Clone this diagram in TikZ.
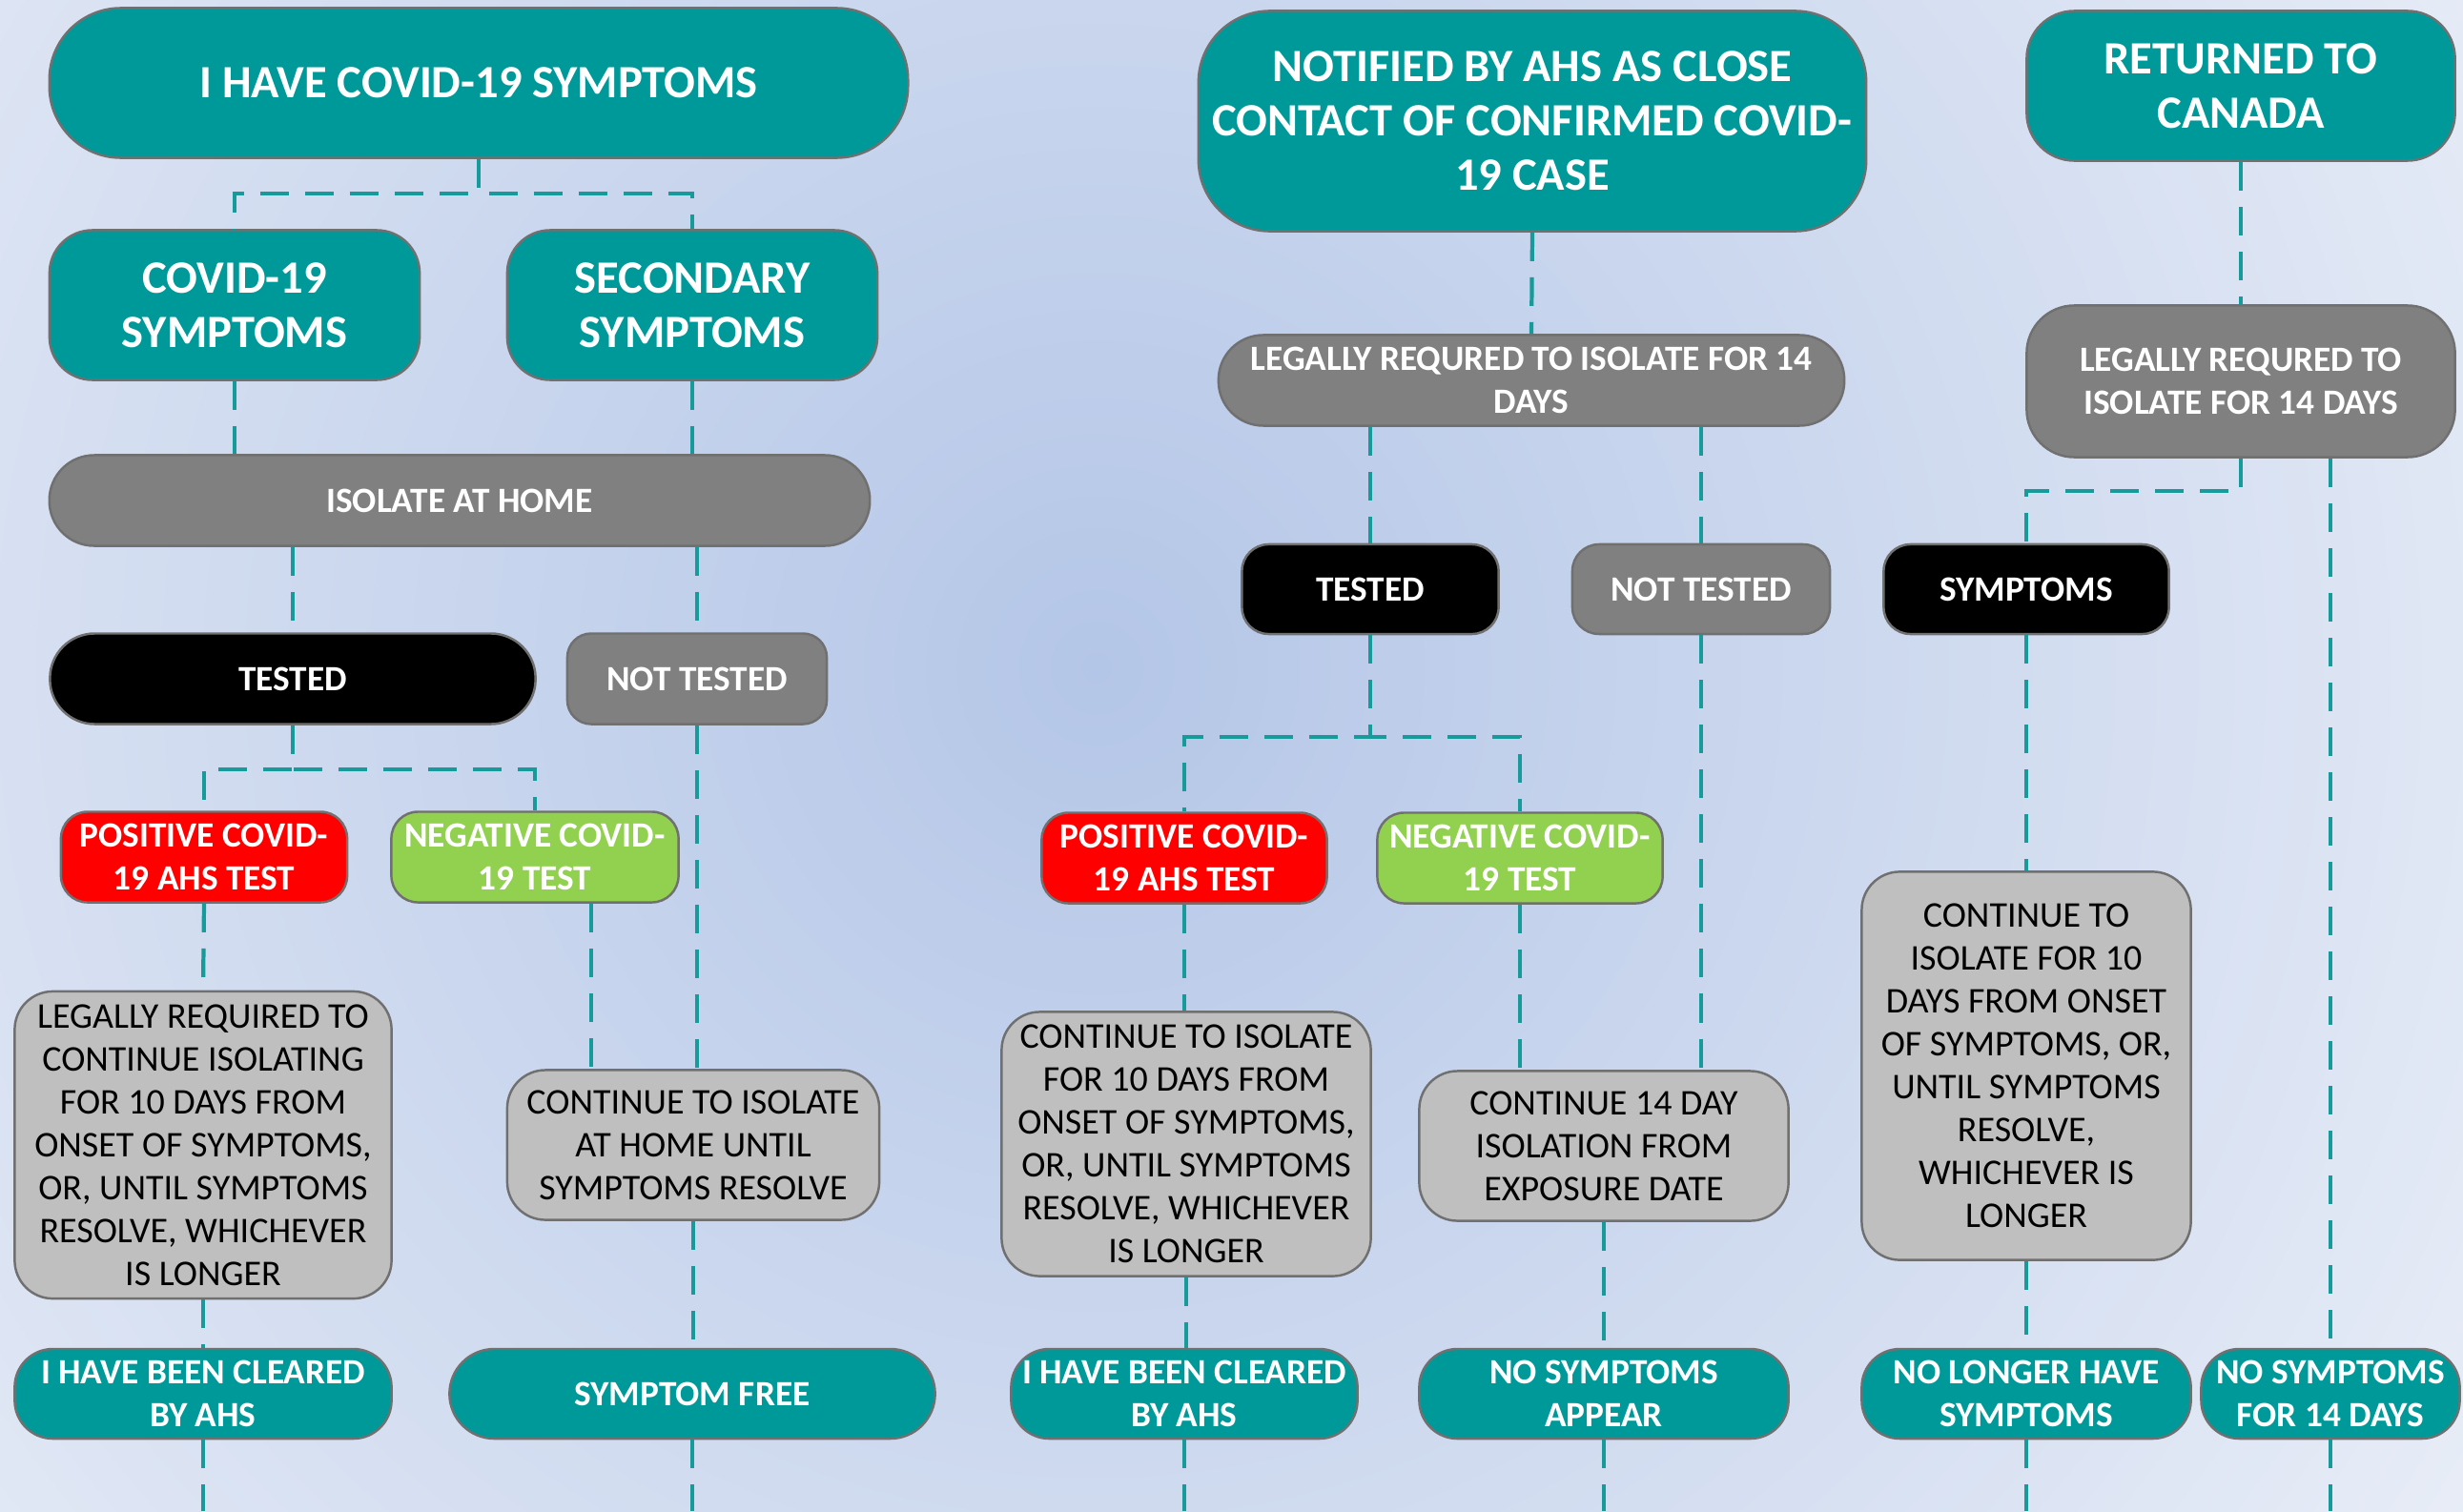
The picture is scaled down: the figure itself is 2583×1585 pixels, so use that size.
\documentclass[tikz,border=0pt]{standalone}
\usepackage{fontspec}
\setmainfont{Carlito}
\usepackage{tikz}
\usetikzlibrary{calc}

\definecolor{tealbox}{RGB}{0,153,153}
\definecolor{linkteal}{RGB}{22,154,154}
\definecolor{darkbox}{RGB}{128,128,128}
\definecolor{lightbox}{RGB}{191,191,191}
\definecolor{posred}{RGB}{255,0,0}
\definecolor{neggreen}{RGB}{146,208,80}
\definecolor{edgegray}{RGB}{112,112,112}
\definecolor{bgdark}{RGB}{180,198,231}
\definecolor{bglight}{RGB}{232,237,247}

\newcommand{\hdfont}{\fontsize{13.8}{16.2}\selectfont\bfseries}
\newcommand{\smfont}{\fontsize{10.6}{12.8}\selectfont}
\newcommand{\ntfont}{\fontsize{10.8}{12.8}\selectfont}

\begin{document}
\begin{tikzpicture}[x=0.01cm, y=-0.01cm,
      box/.style={draw=edgegray, line width=0.7pt, align=center, inner sep=0pt},
      dims/.style n args={3}{minimum width=#1cm, minimum height=#2cm, rounded corners=#3cm},
      head/.style={box, fill=tealbox, text=white, font=\hdfont},
      teal/.style={box, fill=tealbox, text=white, font=\smfont\bfseries},
      grey/.style={box, fill=darkbox, text=white, font=\smfont\bfseries},
      dark/.style={box, fill=black, text=white, font=\smfont\bfseries},
      posbox/.style={box, fill=posred, text=white, font=\smfont\bfseries},
      negbox/.style={box, fill=neggreen, text=white, font=\smfont\bfseries},
      note/.style={box, fill=lightbox, text=black, font=\ntfont},
      link/.style={draw=linkteal, line width=1.2pt, dash pattern=on 0.3cm off 0.17cm}]
    \useasboundingbox (0,0) rectangle (2583,1585);
    % background
    \fill[bglight] (0,0) rectangle (2583,1585);
    \begin{scope}
      \clip (0,0) rectangle (2583,1585);
      \shade[inner color=bgdark, outer color=bglight] (1150,700) circle (1700);
    \end{scope}
    \coordinate (bot) at (0,1585);

    % I have symptoms
    \node[head, dims={9.00}{1.57}{0.75}] (sympt) at (502,87) {I HAVE COVID-19 SYMPTOMS};
    \node[head, dims={3.88}{1.57}{0.45}] (covid) at (246,320) {COVID-19\\SYMPTOMS};
    \node[head, dims={3.88}{1.57}{0.45}] (second) at (726,320) {SECONDARY\\SYMPTOMS};
    \node[grey, dims={8.60}{0.95}{0.47}] (isohome) at (482,525) {ISOLATE AT HOME};
    \node[dark, dims={5.09}{0.95}{0.47}] (testL) at (307,712) {TESTED};
    \node[grey, dims={2.72}{0.95}{0.25}] (notestL) at (731,712) {NOT TESTED};
    \node[posbox, dims={3.00}{0.95}{0.28}] (posL) at (214,899) {POSITIVE COVID-\\19 AHS TEST};
    \node[negbox, dims={3.01}{0.95}{0.28}] (negL) at (561,899) {NEGATIVE COVID-\\19 TEST};
    \node[note, dims={3.95}{3.22}{0.40}] (legalL) at (213,1201) {LEGALLY REQUIRED TO\\CONTINUE ISOLATING\\FOR 10 DAYS FROM\\ONSET OF SYMPTOMS,\\OR, UNTIL SYMPTOMS\\RESOLVE, WHICHEVER\\IS LONGER};
    \node[note, dims={3.90}{1.57}{0.40}] (contL) at (727,1201) {CONTINUE TO ISOLATE\\AT HOME UNTIL\\SYMPTOMS RESOLVE};
    \node[teal, dims={3.95}{0.94}{0.40}] (clearL) at (213,1462) {I HAVE BEEN CLEARED\\BY AHS};
    \node[teal, dims={5.09}{0.94}{0.47}] (free) at (726,1462) {SYMPTOM FREE};

    % close contact
    \node[head, dims={7.00}{2.31}{0.75}] (notif) at (1607,127) {NOTIFIED BY AHS AS CLOSE\\CONTACT OF CONFIRMED COVID-\\19 CASE};
    \node[grey, dims={6.56}{0.95}{0.47}] (legalM) at (1606,399) {LEGALLY REQURED TO ISOLATE FOR 14\\DAYS};
    \node[dark, dims={2.69}{0.94}{0.28}] (testM) at (1437,618) {TESTED};
    \node[grey, dims={2.70}{0.94}{0.28}] (notestM) at (1784,618) {NOT TESTED};
    \node[posbox, dims={2.99}{0.95}{0.28}] (posM) at (1242,900) {POSITIVE COVID-\\19 AHS TEST};
    \node[negbox, dims={2.99}{0.95}{0.28}] (negM) at (1594,900) {NEGATIVE COVID-\\19 TEST};
    \node[note, dims={3.87}{2.77}{0.40}] (contM) at (1244,1200) {CONTINUE TO ISOLATE\\FOR 10 DAYS FROM\\ONSET OF SYMPTOMS,\\OR, UNTIL SYMPTOMS\\RESOLVE, WHICHEVER\\IS LONGER};
    \node[note, dims={3.87}{1.57}{0.40}] (cont14) at (1682,1202) {CONTINUE 14 DAY\\ISOLATION FROM\\EXPOSURE DATE};
    \node[teal, dims={3.63}{0.94}{0.40}] (clearM) at (1242,1462) {I HAVE BEEN CLEARED\\BY AHS};
    \node[teal, dims={3.87}{0.94}{0.40}] (noappear) at (1682,1462) {NO SYMPTOMS\\APPEAR};

    % returned to canada
    \node[head, dims={4.49}{1.57}{0.50}] (canada) at (2350,90) {RETURNED TO\\CANADA};
    \node[grey, dims={4.49}{1.59}{0.50}] (legalR) at (2350,400) {LEGALLY REQURED TO\\ISOLATE FOR 14 DAYS};
    \node[dark, dims={2.99}{0.94}{0.28}] (symp) at (2125,618) {SYMPTOMS};
    \node[note, dims={3.45}{4.07}{0.40}] (contR) at (2125,1118) {CONTINUE TO\\ISOLATE FOR 10\\DAYS FROM ONSET\\OF SYMPTOMS, OR,\\UNTIL SYMPTOMS\\RESOLVE,\\WHICHEVER IS\\LONGER};
    \node[teal, dims={3.45}{0.94}{0.40}] (nolonger) at (2125,1462) {NO LONGER HAVE\\SYMPTOMS};
    \node[teal, dims={2.71}{0.94}{0.40}] (nofourteen) at (2444,1462) {NO SYMPTOMS\\FOR 14 DAYS};

    % connectors, left
    \draw[link] (sympt.south) -- ++(0,36) -| (covid.north);
    \draw[link] (sympt.south) -- ++(0,36) -| (second.north);
    \draw[link] (covid.south) -- (covid.south |- isohome.north);
    \draw[link] (second.south) -- (second.south |- isohome.north);
    \draw[link] (testL.north |- isohome.south) -- (testL.north);
    \draw[link] (notestL.north |- isohome.south) -- (notestL.north);
    \draw[link] (testL.south) -- ++(0,46) -| (posL.north);
    \draw[link] (testL.south) -- ++(0,46) -| (negL.north);
    \draw[link] (posL.south) -- (legalL.north);
    \draw[link] ([xshift=0.59cm]negL.south) coordinate (negLx) -- (negLx |- contL.north);
    \draw[link] (notestL.south) -- (notestL.south |- contL.north);
    \draw[link] (legalL.south) -- (clearL.north);
    \draw[link] (contL.south) -- (contL.south |- free.north);
    \draw[link] (clearL.south) -- (clearL.south |- bot);
    \draw[link] (free.south) -- (free.south |- bot);

    % connectors, middle
    \draw[link] (notif.south) -- (legalM.north);
    \draw[link] (testM.north |- legalM.south) -- (testM.north);
    \draw[link] (notestM.north |- legalM.south) -- (notestM.north);
    \draw[link] (testM.south) -- ++(0,107) -| (posM.north);
    \draw[link] (testM.south) -- ++(0,107) -| (negM.north);
    \draw[link] (posM.south) -- (posM.south |- contM.north);
    \draw[link] (negM.south) -- (negM.south |- cont14.north);
    \draw[link] (notestM.south) -- (notestM.south |- cont14.north);
    \draw[link] (contM.south) -- (contM.south |- clearM.north);
    \draw[link] (cont14.south) -- (noappear.north);
    \draw[link] (clearM.south) -- (clearM.south |- bot);
    \draw[link] (noappear.south) -- (noappear.south |- bot);

    % connectors, right
    \draw[link] (canada.south) -- (legalR.north);
    \draw[link] (legalR.south) -- ++(0,34) -| (symp.north);
    \draw[link] ([xshift=0.94cm]legalR.south) coordinate (legalRx) -- (legalRx |- nofourteen.north);
    \draw[link] (symp.south) -- (contR.north);
    \draw[link] (contR.south) -- (nolonger.north);
    \draw[link] (nolonger.south) -- (nolonger.south |- bot);
    \draw[link] (nofourteen.south) -- (nofourteen.south |- bot);
\end{tikzpicture}
\end{document}
